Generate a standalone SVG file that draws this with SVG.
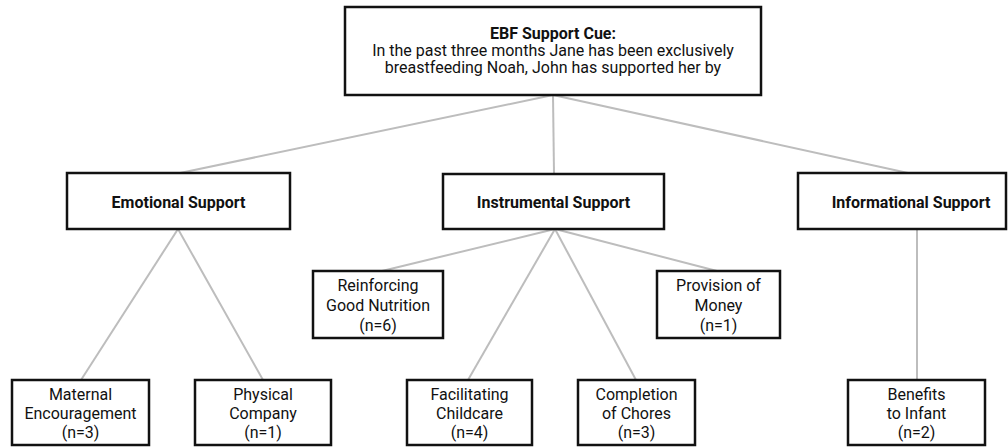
<svg xmlns="http://www.w3.org/2000/svg" width="1008" height="447" viewBox="0 0 1008 447">
<style>
.box{fill:#fff;stroke:#111;stroke-width:2.5}
.t{font-family:Roboto,"Liberation Sans",sans-serif;font-size:16px;fill:#111;text-anchor:middle}
.b{font-weight:bold}
.c{stroke:#bdbdbd;stroke-width:2;fill:none}
</style>
<rect width="1008" height="447" fill="#fff"/>
<g id="connectors">
<line class="c" x1="553" y1="95" x2="180" y2="173"/>
<line class="c" x1="553" y1="95" x2="554" y2="174"/>
<line class="c" x1="553" y1="95" x2="908" y2="173"/>
<line class="c" x1="178" y1="229" x2="81" y2="380"/>
<line class="c" x1="178" y1="229" x2="263" y2="380"/>
<line class="c" x1="555" y1="229" x2="382" y2="271"/>
<line class="c" x1="555" y1="229" x2="717" y2="271"/>
<line class="c" x1="555" y1="229" x2="468" y2="380"/>
<line class="c" x1="555" y1="229" x2="636" y2="380"/>
<line class="c" x1="917" y1="229" x2="917" y2="380"/>
</g>
<g id="cue">
<rect class="box" x="345" y="7" width="416" height="88"/>
<text class="t b" x="553" y="39">EBF Support Cue:</text>
<text class="t" x="553" y="56">In the past three months Jane has been exclusively</text>
<text class="t" x="553" y="73">breastfeeding Noah, John has supported her by</text>
</g>
<g id="emotional">
<rect class="box" x="67" y="173" width="223" height="56"/>
<text class="t b" x="178.5" y="208">Emotional Support</text>
</g>
<g id="instrumental">
<rect class="box" x="443" y="174" width="221" height="55"/>
<text class="t b" x="553.5" y="208">Instrumental Support</text>
</g>
<g id="informational">
<rect class="box" x="798" y="173" width="208" height="56"/>
<text class="t b" x="911" y="208">Informational Support</text>
</g>
<g id="reinforcing">
<rect class="box" x="313" y="271" width="130" height="67"/>
<text class="t" x="378" y="291">Reinforcing</text>
<text class="t" x="378" y="311">Good Nutrition</text>
<text class="t" x="378" y="331">(n=6)</text>
</g>
<g id="money">
<rect class="box" x="657" y="271" width="123" height="67"/>
<text class="t" x="718.5" y="291">Provision of</text>
<text class="t" x="718.5" y="311">Money</text>
<text class="t" x="718.5" y="331">(n=1)</text>
</g>
<g id="maternal">
<rect class="box" x="12" y="380" width="137" height="65"/>
<text class="t" x="80.5" y="400">Maternal</text>
<text class="t" x="80.5" y="419">Encouragement</text>
<text class="t" x="80.5" y="438">(n=3)</text>
</g>
<g id="physical">
<rect class="box" x="195" y="380" width="136" height="65"/>
<text class="t" x="263" y="400">Physical</text>
<text class="t" x="263" y="419">Company</text>
<text class="t" x="263" y="438">(n=1)</text>
</g>
<g id="childcare">
<rect class="box" x="407" y="380" width="125" height="65"/>
<text class="t" x="469.5" y="400">Facilitating</text>
<text class="t" x="469.5" y="419">Childcare</text>
<text class="t" x="469.5" y="438">(n=4)</text>
</g>
<g id="chores">
<rect class="box" x="578" y="380" width="117" height="65"/>
<text class="t" x="636.5" y="400">Completion</text>
<text class="t" x="636.5" y="419">of Chores</text>
<text class="t" x="636.5" y="438">(n=3)</text>
</g>
<g id="infant">
<rect class="box" x="848" y="380" width="137" height="65"/>
<text class="t" x="916.5" y="400">Benefits</text>
<text class="t" x="916.5" y="419">to Infant</text>
<text class="t" x="916.5" y="438">(n=2)</text>
</g>
</svg>
